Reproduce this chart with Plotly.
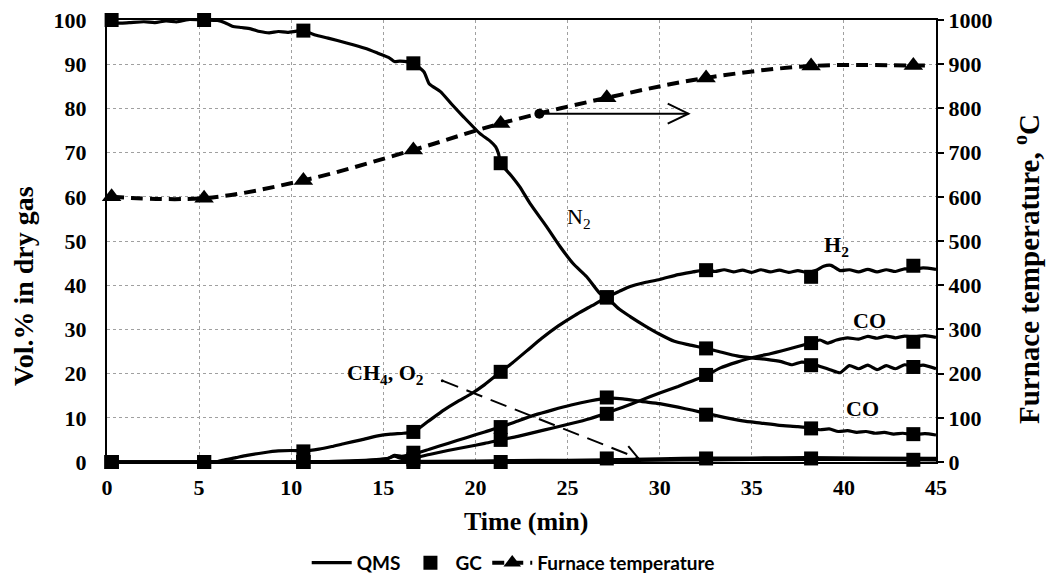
import plotly.graph_objects as go

# ---------------- data ----------------
# QMS (continuous) curves, Vol.% in dry gas
n2_t = [0, 0.6, 1.2, 2, 2.6, 3.2, 3.8, 4.4, 5.27, 6, 6.4, 6.8, 7.3, 7.8, 8.3, 8.8, 9.3, 9.8, 10.66,
        11.3, 12, 13, 14, 14.7, 15.3, 15.6, 15.9, 16.63, 17.2, 17.5, 18.1, 18.7, 19.35, 20.25, 20.8,
        21.1, 21.25, 21.37, 22, 22.4, 22.96, 23.87, 24.6, 25.3, 26.04, 26.76, 27.13, 27.8, 28.4, 29.2,
        30, 30.8, 31.6, 32.52, 33.3, 34.2, 35.1, 35.8, 36.6, 37.2, 37.7, 38.22, 38.8, 39.3, 39.8, 40.3,
        40.8, 41.3, 41.8, 42.3, 42.8, 43.3, 43.77, 44.3, 45]
n2_v = [100, 99.3, 99.4, 99.6, 99.4, 99.8, 99.6, 100.1, 100, 99.9, 99.4, 98.6, 98.3, 98.0, 97.4, 97.1,
        97.4, 97.2, 97.6, 96.6, 95.9, 94.8, 93.6, 92.5, 91.5, 90.6, 90.7, 90.2, 88.3, 85.5, 83.8, 81.0,
        78.1, 74.3, 72.6, 71.3, 69.8, 67.6, 64.5, 62.3, 58.5, 53.2, 48.7, 44.9, 41.9, 38.1, 37.2, 34.6,
        32.9, 30.8, 28.9, 27.3, 26.5, 25.7, 24.9, 24.0, 23.5, 23.2, 22.7, 22.0, 22.6, 22.3, 21.5, 20.8,
        20.2, 21.8, 21.1, 21.9, 20.9, 21.8, 21.1, 22.0, 21.6, 21.9, 21.1]

h2_t = [0, 5.27, 6, 6.4, 7, 7.6, 8.5, 9.3, 10, 10.66, 11.5, 12.2, 12.9, 13.8, 14.7, 15.4, 16.1, 16.63,
        17.4, 18.3, 19, 19.8, 20.5, 21.37, 22, 22.8, 23.6, 24.5, 25.4, 26.3, 27.13, 27.8, 28.4, 29.2,
        30, 31, 31.8, 32.52, 33, 33.5, 34, 34.5, 35, 35.5, 36, 36.5, 37, 37.5, 38, 38.5, 38.9, 39.3,
        39.8, 40.3, 40.8, 41.3, 41.8, 42.3, 42.8, 43.3, 43.77, 44.3, 45]
h2_v = [0, 0, 0.1, 0.5, 1.0, 1.5, 2.1, 2.5, 2.6, 2.5, 2.9, 3.5, 4.2, 5.0, 5.9, 6.3, 6.5, 6.8,
        9.1, 11.8, 13.6, 15.5, 17.5, 20.4, 22.4, 25.2, 28.0, 30.8, 33.2, 35.3, 37.3, 38.6, 39.7, 40.6,
        41.3, 42.4, 43.0, 43.5, 43.1, 43.5, 43.0, 43.4, 42.9, 43.5, 43.0, 43.4, 42.9, 43.3, 42.9, 43.4,
        44.3, 44.5, 43.3, 43.5, 43.0, 43.6, 43.0, 43.5, 43.1, 43.7, 43.6, 43.9, 43.6]

co_t = [0, 10, 12, 14, 15.2, 15.6, 16.0, 16.63, 17.5, 18.5, 19.5, 20.5, 21.37, 22.3, 23.2, 24.2, 25.2,
        26.2, 27.13, 28, 29, 30, 31, 31.8, 32.52, 33.3, 34.2, 35.1, 36, 36.6, 37.4, 38.22, 38.7, 39.1,
        39.6, 40.2, 40.8, 41.3, 41.8, 42.3, 42.8, 43.3, 43.77, 44.4, 45]
co_v = [0, 0, 0.1, 0.4, 0.8, 1.3, 0.8, 0.9, 1.7, 2.6, 3.4, 4.2, 5.0, 5.8, 6.7, 7.7, 8.7,
        9.8, 11.1, 12.4, 14.0, 15.6, 17.1, 18.4, 19.6, 21.3, 22.6, 23.7, 24.5, 25.1, 26.0, 27.0, 27.6, 26.9,
        27.6, 28.1, 27.8, 28.4, 28.0, 28.5, 28.1, 28.5, 28.3, 28.6, 28.2]

co2_t = [0, 10, 12, 14, 15.2, 15.6, 16.0, 16.63, 17.5, 18.5, 19.5, 20.5, 21.37, 22.3, 23.2, 24.2, 25.2,
         26.2, 27.13, 28, 29, 30, 31, 31.8, 32.52, 33.5, 34.5, 35.5, 36.5, 37.5, 38.22, 38.7, 39.2,
         39.7, 40.2, 40.7, 41.2, 41.7, 42.2, 42.7, 43.2, 43.77, 44.4, 45]
co2_v = [0, 0, 0.1, 0.3, 0.7, 1.5, 1.3, 1.8, 2.9, 4.2, 5.5, 6.8, 7.9, 9.3, 10.6, 11.8, 12.9,
         13.8, 14.4, 14.3, 13.7, 13.2, 12.4, 11.7, 11.0, 10.1, 9.3, 8.8, 8.3, 8.0, 7.7, 7.3, 7.5,
         6.9, 7.1, 6.7, 6.9, 6.5, 6.7, 6.3, 6.5, 6.2, 6.4, 6.1]

ch4_t = [0, 5, 10, 15, 20, 22, 25, 27, 30, 32.5, 35, 38, 41, 45]
ch4_v = [0, 0, 0, 0.1, 0.2, 0.3, 0.4, 0.5, 0.7, 0.9, 0.9, 1.0, 0.9, 0.8]
o2_t = [0, 5, 10, 15, 20, 22, 25, 27, 30, 32.5, 35, 38, 41, 45]
o2_v = [0, 0, 0, 0, 0.1, 0.1, 0.2, 0.3, 0.4, 0.5, 0.6, 0.6, 0.6, 0.5]

# GC (discrete) samples
gc_t = [0.25, 5.27, 10.66, 16.63, 21.37, 27.13, 32.52, 38.22, 43.77]
gc_n2 = [100, 100, 97.6, 90.2, 67.6, 37.2, 25.7, 21.9, 21.5]
gc_h2 = [0, 0, 2.4, 6.8, 20.4, 37.3, 43.4, 41.9, 44.4]
gc_co = [0, 0, 0, 0.6, 5.0, 10.9, 19.7, 26.9, 27.2]
gc_co2 = [0, 0, 0, 2.1, 7.9, 14.6, 10.7, 7.6, 6.3]
gc_ch4o2 = [0, 0, 0, 0, 0, 0.8, 0.8, 0.8, 0.5]

# Furnace temperature, °C (right axis); last point is the line end without a triangle
temp_t = [0.25, 5.27, 10.66, 16.63, 21.37, 27.13, 32.52, 38.22, 43.77, 44.6]
temp_v = [600, 597, 637, 706, 766, 824, 869, 896, 897, 897]
temp_marker = [True, True, True, True, True, True, True, True, True, False]

x_ticks = [0, 5, 10, 15, 20, 25, 30, 35, 40, 45]
y_ticks = [0, 10, 20, 30, 40, 50, 60, 70, 80, 90, 100]
y2_ticks = [0, 100, 200, 300, 400, 500, 600, 700, 800, 900, 1000]

# ---------------- layout geometry ----------------
W, H = 1047, 575
ML, MR, MT, MB = 107, 111, 20, 113
PW, PH = W - ML - MR, H - MT - MB
XR, YR = (0, 45), (0, 100)

SERIF = "Liberation Serif"
SANS = "Lato"

fig = go.Figure()

# QMS lines
qms = [(n2_t, n2_v), (h2_t, h2_v), (co_t, co_v), (co2_t, co2_v), (ch4_t, ch4_v), (o2_t, o2_v)]
for i, (t, v) in enumerate(qms):
    fig.add_trace(go.Scatter(
        x=t, y=v, mode="lines", name="QMS", legendgroup="qms", showlegend=(i == 0),
        line=dict(color="black", width=3.2, shape="spline", smoothing=0.6),
        cliponaxis=False, hoverinfo="skip"))

# GC markers
for i, v in enumerate([gc_n2, gc_h2, gc_co, gc_co2, gc_ch4o2]):
    fig.add_trace(go.Scatter(
        x=gc_t, y=v, mode="markers", name="GC", legendgroup="gc", showlegend=(i == 0),
        marker=dict(symbol="square", size=14, color="black", opacity=1, line=dict(width=0)),
        cliponaxis=False))

# Furnace temperature
fig.add_trace(go.Scatter(
    x=temp_t, y=temp_v, mode="lines+markers", name="Furnace temperature", yaxis="y2",
    line=dict(color="black", width=4, dash="12px,7px", shape="spline", smoothing=1),
    marker=dict(symbol="triangle-up", size=[17 if m else 0 for m in temp_marker], color="black",
                opacity=1, line=dict(width=0), sizemode="diameter"),
    cliponaxis=False))


# helper: data -> pixel and back (for arrow heads)
def to_px(x, y):
    return (ML + (x - XR[0]) / (XR[1] - XR[0]) * PW, MT + PH - (y - YR[0]) / (YR[1] - YR[0]) * PH)


def to_data(px, py):
    return (XR[0] + (px - ML) / PW * (XR[1] - XR[0]), YR[0] + (MT + PH - py) / PH * (YR[1] - YR[0]))


def paper(px, py):
    return ((px - ML) / PW, (MT + PH - py) / PH)


def head(x0, y0, x1, y1, length, spread):
    import math
    p0 = to_px(x0, y0)
    p1 = to_px(x1, y1)
    ang = math.atan2(p1[1] - p0[1], p1[0] - p0[0])
    pts = []
    for s in (spread, -spread):
        a = ang + math.pi - s
        pts.append(to_data(p1[0] + length * math.cos(a), p1[1] + length * math.sin(a)))
    return pts


shapes = []
# dashed arrow from CH4, O2 label
da0, da1 = (18.2, 18.4), (28.85, 0.8)
shapes.append(dict(type="line", xref="x", yref="y", x0=da0[0], y0=da0[1], x1=da1[0], y1=da1[1],
                   line=dict(color="black", width=2, dash="17px,9px")))
hp = head(*da0, *da1, 16, 0.5)
shapes.append(dict(type="path", xref="x", yref="y",
                   path=f"M{hp[0][0]},{hp[0][1]} L{da1[0]},{da1[1]} L{hp[1][0]},{hp[1][1]}",
                   line=dict(color="black", width=2)))
shapes.append(dict(type="circle", xref="x", yref="y", xsizemode="pixel", ysizemode="pixel",
                   xanchor=da0[0], yanchor=da0[1], x0=-1.5, x1=1.5, y0=-1.5, y1=1.5,
                   fillcolor="black", line=dict(color="black", width=0)))

# solid arrow pointing to the temperature axis
sa0, sa1 = (23.47, 78.8), (31.56, 78.8)
shapes.append(dict(type="line", xref="x", yref="y", x0=sa0[0], y0=sa0[1], x1=sa1[0], y1=sa1[1],
                   line=dict(color="black", width=2)))
hp = head(*sa0, *sa1, 23, 0.45)
shapes.append(dict(type="path", xref="x", yref="y",
                   path=f"M{hp[0][0]},{hp[0][1]} L{sa1[0]},{sa1[1]} L{hp[1][0]},{hp[1][1]}",
                   line=dict(color="black", width=2)))
shapes.append(dict(type="circle", xref="x", yref="y", xsizemode="pixel", ysizemode="pixel",
                   xanchor=sa0[0], yanchor=sa0[1], x0=-5, x1=5, y0=-5, y1=5,
                   fillcolor="black", line=dict(color="black", width=0)))

ann_font_b = dict(family=SERIF, size=22, color="#000000", weight="bold")
ann_font_r = dict(family=SERIF, size=22, color="#000000", weight="normal")
annotations = [
    dict(x=25.6, y=55.2, text="N<sub>2</sub>", font=ann_font_r),
    dict(x=39.6, y=48.8, text="H<sub>2</sub>", font=ann_font_b),
    dict(x=41.4, y=32.0, text="CO", font=ann_font_b),
    dict(x=41.0, y=12.0, text="CO", font=ann_font_b),
    dict(x=17.3, y=20.0, text="CH<sub>4</sub>, O<sub>2</sub>", font=ann_font_b, xanchor="right"),
]
for a in annotations:
    a.update(xref="x", yref="y", showarrow=False)

# axis titles as paper annotations (placed where the reference draws them)
lx, ly = paper(23, 286)
rx, ry = paper(1027, 269)
tx, ty = paper(526, 521)
annotations += [
    dict(xref="paper", yref="paper", x=lx, y=ly, xanchor="center", yanchor="middle", textangle=-90,
         text="Vol.% in dry gas", showarrow=False,
         font=dict(family=SERIF, size=28, color="black", weight="bold")),
    dict(xref="paper", yref="paper", x=rx, y=ry, xanchor="center", yanchor="middle", textangle=-90,
         text="Furnace temperature, <sup>o</sup>C", showarrow=False,
         font=dict(family=SERIF, size=29, color="black", weight="bold")),
    dict(xref="paper", yref="paper", x=tx, y=ty, xanchor="center", yanchor="middle",
         text="Time (min)", showarrow=False,
         font=dict(family=SERIF, size=26, color="black", weight="bold")),
]

tickfont = dict(family=SERIF, size=22, color="black", weight="bold")
grid = dict(showgrid=True, gridcolor="#a0a0a0", gridwidth=1, griddash="dot")

fig.update_layout(
    width=W, height=H,
    margin=dict(l=ML, r=MR, t=MT, b=MB, autoexpand=False),
    plot_bgcolor="white", paper_bgcolor="white",
    shapes=shapes, annotations=annotations,
    xaxis=dict(range=list(XR), tickvals=x_ticks, ticktext=[str(v) for v in x_ticks],
               tickfont=tickfont, ticks="", ticklabelstandoff=5, zeroline=False, showline=True,
               linecolor="black", linewidth=2, mirror=True, **grid),
    yaxis=dict(range=list(YR), tickvals=y_ticks, ticktext=[str(v) for v in y_ticks],
               tickfont=tickfont, ticks="", ticklabelstandoff=14, zeroline=False,
               showline=True, linecolor="black", linewidth=2, **grid),
    yaxis2=dict(range=[0, 1000], tickvals=y2_ticks, ticktext=[str(v) for v in y2_ticks],
                overlaying="y", side="right", showgrid=False, zeroline=False,
                tickfont=tickfont, ticks="outside", ticklen=6, tickwidth=2, tickcolor="black",
                showline=True, linecolor="black", linewidth=2),
    legend=dict(orientation="h", x=0.49, xanchor="center", y=-0.228, yanchor="middle",
                font=dict(family=SANS, size=19, color="black", weight="bold"),
                bgcolor="rgba(0,0,0,0)", itemwidth=40, traceorder="normal"),
    showlegend=True,
)

fig.write_html("out.html")
